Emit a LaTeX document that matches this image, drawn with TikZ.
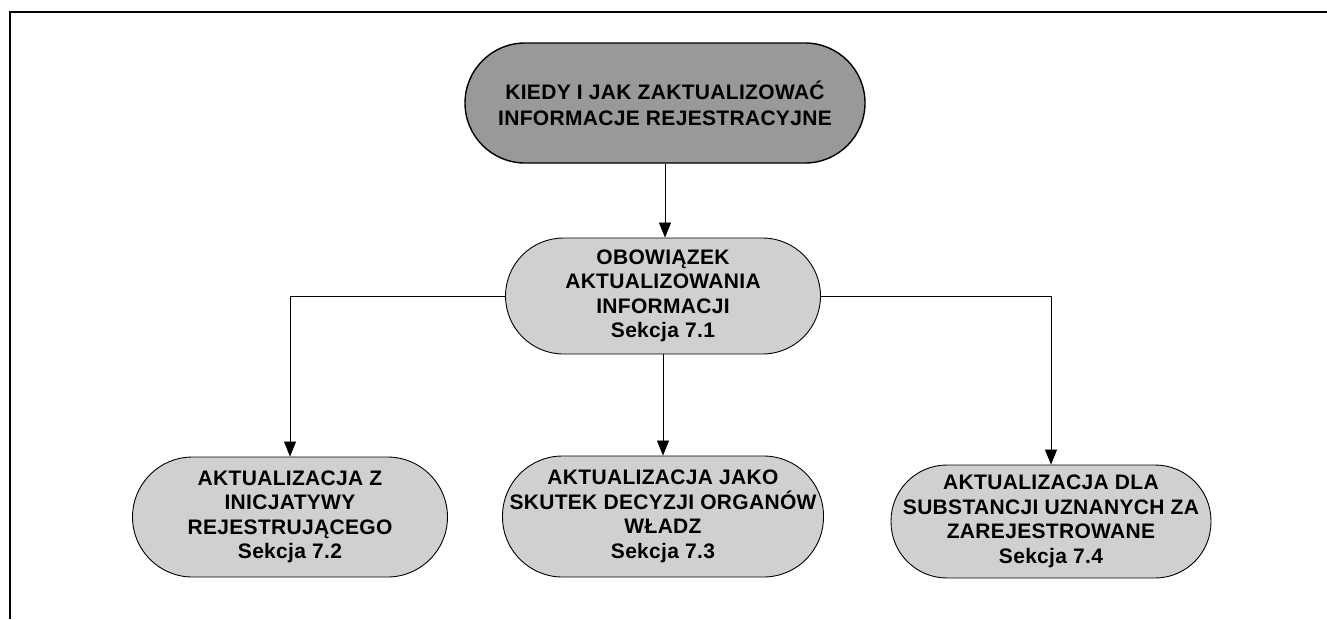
\documentclass[tikz,border=0pt]{standalone}
\usepackage{fontspec}
\setmainfont{Liberation Sans}
\usetikzlibrary{arrows.meta}
\definecolor{headfill}{RGB}{153,153,153}
\definecolor{boxfill}{RGB}{208,208,208}
\begin{document}
\begin{tikzpicture}[x=1pt,y=-1pt,
  txt/.style={align=center,font=\fontsize{21}{24.5}\selectfont\bfseries\addfontfeature{LetterSpace=1.5}},
  pill/.style={txt,draw=black,line width=0.9pt,fill=boxfill,inner sep=0pt},
  arr/.style={line width=0.8pt,-{Triangle[width=12pt,length=15pt]}},
  link/.style={line width=0.8pt}]
\useasboundingbox (0,0) rectangle (1327,619);
% page frame
\draw[line width=2pt] (1327,12) -- (10,12) -- (10,619);
% top-level question
\node[pill,fill=headfill,line width=1.4pt,rounded corners=60pt,minimum width=400pt,minimum height=120pt,
  font=\fontsize{21}{26}\selectfont\bfseries\addfontfeature{LetterSpace=1.5}]
  (top) at (665,103) {KIEDY I JAK ZAKTUALIZOWAĆ\\INFORMACJE REJESTRACYJNE};
% general obligation
\node[pill,rounded corners=58pt,minimum width=315pt,minimum height=116pt]
  (mid) at (663,296) {OBOWIĄZEK\\AKTUALIZOWANIA\\INFORMACJI\\Sekcja 7.1};
% three update cases
\node[pill,rounded corners=60pt,minimum width=315pt,minimum height=120pt]
  (left) at (290,517) {AKTUALIZACJA Z\\INICJATYWY\\REJESTRUJĄCEGO\\Sekcja 7.2};
\node[pill,rounded corners=60pt,minimum width=321pt,minimum height=121pt]
  (centre) at (663,516.5) {AKTUALIZACJA JAKO\\SKUTEK DECYZJI ORGANÓW\\WŁADZ\\Sekcja 7.3};
\node[pill,rounded corners=56pt,minimum width=320pt,minimum height=113pt]
  (right) at (1051,521.5) {AKTUALIZACJA DLA\\SUBSTANCJI UZNANYCH ZA\\ZAREJESTROWANE\\Sekcja 7.4};
% connectors
\draw[arr] (top.south) -- (mid.north -| top.south);
\draw[arr] (mid.west) -| (left.north);
\draw[arr] (mid.south) -- (centre.north);
\draw[arr] (mid.east) -| (right.north);
\end{tikzpicture}
\end{document}
